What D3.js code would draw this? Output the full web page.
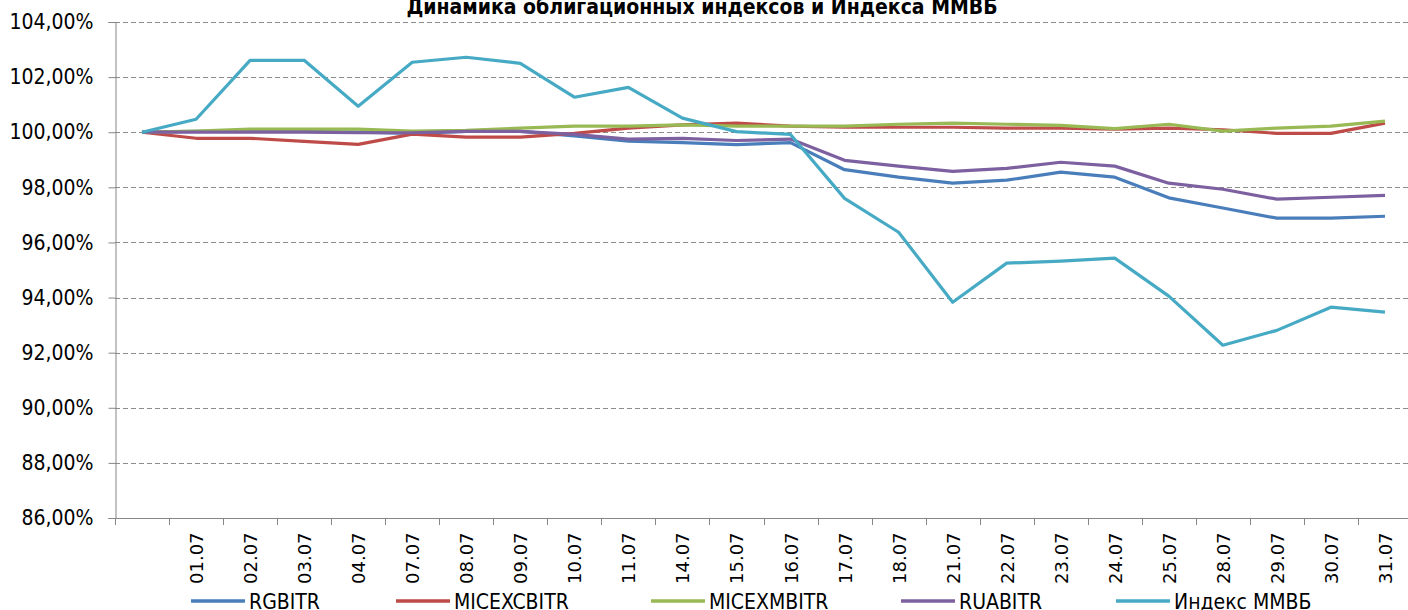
<!DOCTYPE html>
<html>
<head>
<meta charset="utf-8">
<script src="https://cdn.jsdelivr.net/npm/d3@7"></script>
<style>
  body { margin: 0; background: #fff; }
  svg { display: block; }
</style>
</head>
<body>
<script>
'use strict';

var width = 1408;
var height = 610;

// categories (first one is the blank start point)
var dates = ['', '01.07', '02.07', '03.07', '04.07', '07.07', '08.07', '09.07', '10.07', '11.07',
    '14.07', '15.07', '16.07', '17.07', '18.07', '21.07', '22.07', '23.07', '24.07', '25.07',
    '28.07', '29.07', '30.07', '31.07'];

var rgbitr = [100, 100.03, 100.03, 100.03, 100.0, 99.96, 100.03, 100.03, 99.87, 99.68,
    99.62, 99.55, 99.62, 98.64, 98.37, 98.15, 98.26, 98.55, 98.37, 97.62,
    97.25, 96.88, 96.88, 96.95];
var micexcbitr = [100, 99.78, 99.78, 99.67, 99.56, 99.93, 99.82, 99.82, 99.96, 100.15,
    100.27, 100.33, 100.22, 100.18, 100.18, 100.18, 100.15, 100.15, 100.11, 100.15,
    100.09, 99.96, 99.96, 100.33];
var micexmbitr = [100, 100.04, 100.11, 100.11, 100.11, 100.04, 100.07, 100.15, 100.22, 100.22,
    100.27, 100.22, 100.22, 100.22, 100.29, 100.33, 100.29, 100.25, 100.13, 100.29,
    100.04, 100.15, 100.22, 100.4];
var ruabitr = [100, 100.0, 100.0, 100.0, 99.98, 99.98, 100.03, 100.03, 99.92, 99.75,
    99.78, 99.7, 99.75, 98.98, 98.77, 98.58, 98.69, 98.91, 98.77, 98.15,
    97.93, 97.57, 97.64, 97.71];
var micex = [100, 100.47, 102.61, 102.61, 100.94, 102.54, 102.72, 102.5, 101.27, 101.63,
    100.51, 100.02, 99.92, 97.6, 96.37, 93.83, 95.25, 95.32, 95.43, 94.05,
    92.27, 92.81, 93.65, 93.47];

var seriesNames = ['RGBITR', 'MICEXCBITR', 'MICEXMBITR', 'RUABITR', 'Индекс ММВБ'];
var seriesColors = ['#4a7ebb', '#be4b48', '#98b954', '#7d60a0', '#46aac5'];
var seriesValues = [rgbitr, micexcbitr, micexmbitr, ruabitr, micex];

var yTicks = [86, 88, 90, 92, 94, 96, 98, 100, 102, 104];

var plot = { left: 115, right: 1412, top: 22, bottom: 518 };

var svg = d3.select('body').append('svg')
    .attr('width', width)
    .attr('height', height);

var x = d3.scaleBand()
    .domain(d3.range(dates.length))
    .range([plot.left, plot.right]);

var y = d3.scaleLinear()
    .domain([86, 104])
    .range([plot.bottom, plot.top]);

var fmt = function(d) { return d3.format('.2f')(d).replace('.', ',') + '%'; };

// grid lines
svg.append('g')
    .selectAll('line')
    .data(yTicks.filter(function(d) { return d !== 86; }))
    .enter()
    .append('line')
    .attr('x1', plot.left)
    .attr('x2', width)
    .attr('y1', function(d) { return Math.round(y(d)) + 0.5; })
    .attr('y2', function(d) { return Math.round(y(d)) + 0.5; })
    .attr('stroke', '#8c8c8c')
    .attr('stroke-dasharray', '5,3');

// y axis
var yAxis = svg.append('g')
    .attr('transform', 'translate(' + (plot.left + 0.5) + ',0)')
    .call(d3.axisLeft(y).tickValues(yTicks).tickFormat(fmt).tickSize(7).tickPadding(15));
yAxis.select('.domain').attr('stroke', '#868686');
yAxis.selectAll('.tick line').attr('stroke', '#868686');
yAxis.selectAll('text')
    .style('font-family', '"Liberation Sans Narrow", "DejaVu Sans Condensed", sans-serif')
    .style('font-size', '21px')
    .attr('fill', '#000');

// x axis: ticks between categories
var xAxisG = svg.append('g');
xAxisG.append('line')
    .attr('x1', plot.left)
    .attr('x2', width)
    .attr('y1', plot.bottom + 0.5)
    .attr('y2', plot.bottom + 0.5)
    .attr('stroke', '#868686');
xAxisG.selectAll('.xt')
    .data(d3.range(dates.length))
    .enter()
    .append('line')
    .attr('class', 'xt')
    .attr('x1', function(d) { return Math.round(x(d)) + 0.5; })
    .attr('x2', function(d) { return Math.round(x(d)) + 0.5; })
    .attr('y1', plot.bottom)
    .attr('y2', plot.bottom + 7)
    .attr('stroke', '#868686');
xAxisG.selectAll('text')
    .data(dates)
    .enter()
    .append('text')
    .attr('transform', function(d, i) {
        return 'translate(' + (x(i) + x.bandwidth() / 2 + 7) + ',' + 584 + ') rotate(-90)';
    })
    .style('font-family', '"DejaVu Sans", Verdana, sans-serif')
    .style('font-size', '18px')
    .attr('fill', '#000')
    .text(function(d) { return d; });

// lines
var line = d3.line()
    .x(function(d, i) { return x(i) + x.bandwidth() / 2; })
    .y(function(d) { return y(d); });

svg.append('g')
    .selectAll('path')
    .data(seriesValues)
    .enter()
    .append('path')
    .attr('fill', 'none')
    .attr('stroke', function(d, i) { return seriesColors[i]; })
    .attr('stroke-width', 3.2)
    .attr('stroke-linejoin', 'round')
    .attr('d', line);

// title
svg.append('text')
    .attr('x', 702)
    .attr('y', 14)
    .attr('text-anchor', 'middle')
    .style('font-family', '"DejaVu Sans Condensed", "DejaVu Sans", sans-serif')
    .style('font-weight', 'bold')
    .style('font-size', '21px')
    .text('Динамика облигационных индексов и Индекса ММВБ');

// legend
var legendX = [191, 396, 651, 901, 1116];
var legend = svg.append('g')
    .selectAll('g')
    .data(seriesNames)
    .enter()
    .append('g')
    .attr('transform', function(d, i) { return 'translate(' + legendX[i] + ',601)'; });
legend.append('line')
    .attr('x1', 0)
    .attr('x2', 54)
    .attr('stroke', function(d, i) { return seriesColors[i]; })
    .attr('stroke-width', 3.5);
legend.append('text')
    .attr('x', 58)
    .attr('y', 8)
    .style('font-family', '"Liberation Sans Narrow", "DejaVu Sans Condensed", sans-serif')
    .style('font-size', '21px')
    .text(function(d) { return d; });
</script>
</body>
</html>
